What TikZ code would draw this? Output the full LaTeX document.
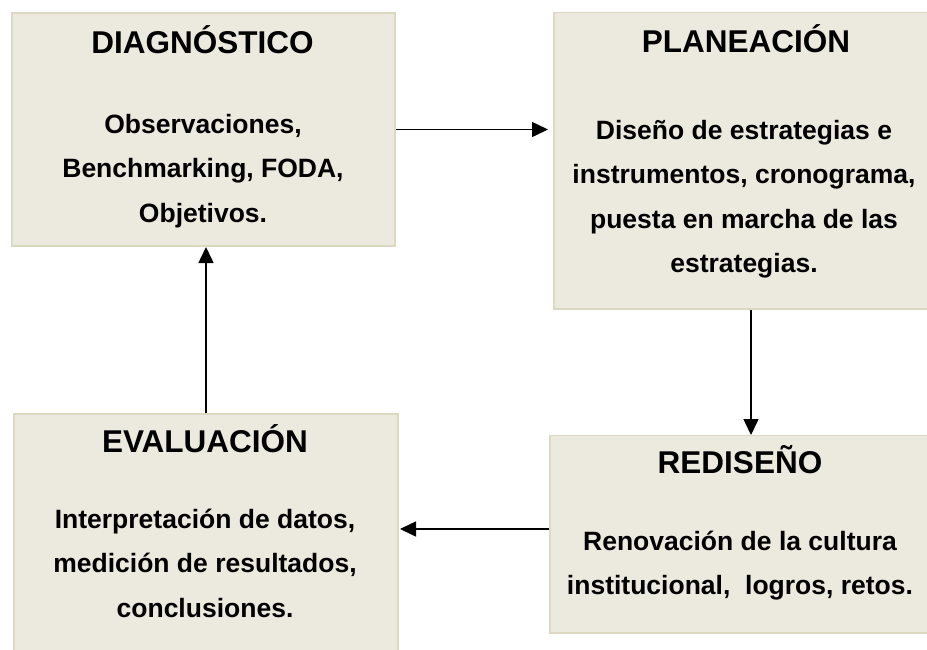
\documentclass[tikz,border=0pt]{standalone}
\usepackage{fontspec}
\setmainfont{Liberation Sans}
\usetikzlibrary{arrows.meta}
\definecolor{boxfill}{HTML}{ECE9DE}
\definecolor{boxborder}{HTML}{DDD8C2}
\tikzset{
  box/.style={draw=boxborder, fill=boxfill, line width=2pt, rectangle, inner sep=0pt, anchor=north west},
  ttl/.style={font=\fontsize{31.5}{36}\selectfont\bfseries, inner sep=0pt, anchor=base},
  bodytext/.style={font=\fontsize{26.5}{44.5}\selectfont\bfseries, inner sep=0pt, anchor=north, align=center},
  conn/.style={line width=1.5pt, -{Triangle[length=16pt,width=15pt]}}
}
\begin{document}
\begin{tikzpicture}[x=1pt,y=-1pt]
\path[use as bounding box] (0,0) rectangle (927,649);
\fill[white] (0,0) rectangle (927,649);
% boxes
\node[box, minimum width=383pt, minimum height=233pt] (diag) at (11,12) {};
\node[box, minimum width=394pt, minimum height=296pt] (plan) at (553,12) {};
\node[box, minimum width=402pt, minimum height=197pt] (redis) at (549,435) {};
\node[box, minimum width=384pt, minimum height=252pt] (eval) at (13,413) {};
% hide the parts beyond the picture's edge
\fill[boxfill] (plan.north west) ++(2,1) rectangle (1000,307);
\fill[boxfill] (redis.north west) ++(2,1) rectangle (1000,631);
% texts
\node[ttl] (diagT) at (202.5,53) {DIAGNÓSTICO};
\node[bodytext] (diagB) at (203,113.7) {Observaciones,\\Benchmarking, FODA,\\Objetivos.};
\node[ttl] (planT) at (746,52) {PLANEACIÓN};
\node[bodytext] (planB) at (744,119.7) {Diseño de estrategias e\\instrumentos, cronograma,\\puesta en marcha de las\\estrategias.};
\node[ttl] (redisT) at (740,473) {REDISEÑO};
\node[bodytext] (redisB) at (740,530.7) {Renovación de la cultura\\institucional,\ \ logros, retos.};
\node[ttl] (evalT) at (205,452) {EVALUACIÓN};
\node[bodytext] (evalB) at (205,508.7) {Interpretación de datos,\\medición de resultados,\\conclusiones.};
% connectors
\draw[conn, shorten >=5pt] (diag.east) -- (plan.west |- diag.east);
\draw[conn] (plan.south) -- (redis.north -| plan.south);
\coordinate (rw) at ([yshift=5.5pt]redis.west);
\draw[conn, shorten >=1pt] (rw) -- (eval.east |- rw);
\draw[conn] (eval.north) -- (diag.south -| eval.north);
\end{tikzpicture}
\end{document}
